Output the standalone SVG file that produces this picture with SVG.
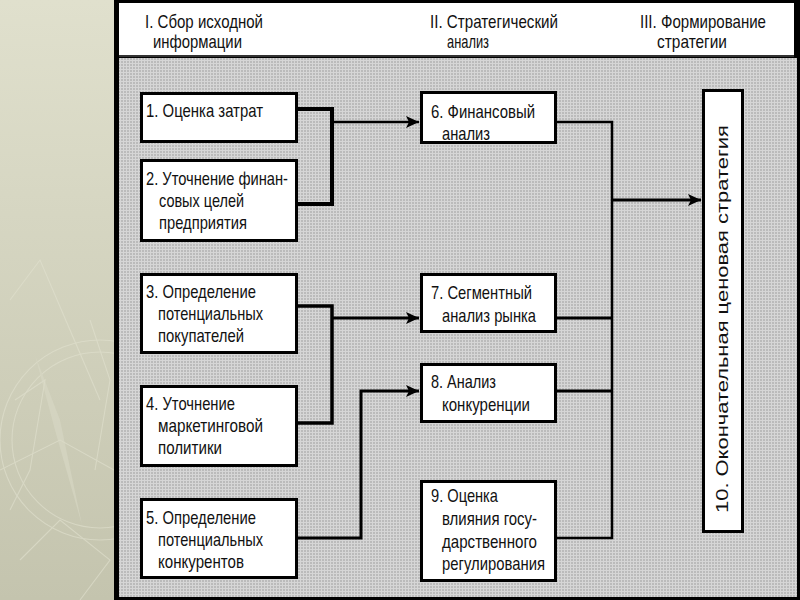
<svg xmlns="http://www.w3.org/2000/svg" width="800" height="600" viewBox="0 0 800 600">
<style>
.box{fill:#fff;stroke:#000;stroke-width:3}
.t{font-family:"Liberation Sans",Arial,sans-serif;font-size:19px;fill:#111}
.vt{font-family:"Liberation Sans",Arial,sans-serif;font-size:16px;fill:#111}
.c{fill:none;stroke:#000;stroke-linejoin:miter}
.deco{fill:none;stroke:#e2e2d0;stroke-width:1.1;opacity:0.6}
</style>
<defs>
<linearGradient id="bg" x1="0" y1="0" x2="0" y2="1">
<stop offset="0" stop-color="#e0e0cd"/>
<stop offset="1" stop-color="#c4c4ae"/>
</linearGradient>
<pattern id="grid" width="3" height="3" patternUnits="userSpaceOnUse">
<rect width="3" height="3" fill="#bbbbbb"/>
<rect width="3" height="1" fill="#d6d6d6"/>
<rect width="1" height="3" fill="#d6d6d6"/>
</pattern>
<marker id="ah" markerUnits="userSpaceOnUse" markerWidth="14" markerHeight="12" refX="13" refY="6" orient="auto">
<path d="M0,0 L13,6 L0,12 L3,6 Z" fill="#000"/>
</marker>
</defs>

<g id="background">
<rect x="0" y="0" width="114" height="600" fill="url(#bg)"/>
<g class="deco">
<circle cx="100" cy="440" r="100"/>
<circle cx="100" cy="440" r="88"/>
<path d="M35,355 L60,420 L82,525 L55,430 Z" fill="#d9d9c6" stroke="none"/>
<path d="M10,300 L40,260 L70,330 L100,400"/>
<path d="M0,470 L60,440 L114,470"/>
<path d="M20,560 L60,520 L110,560 L80,600"/>
<path d="M15,400 L45,380 L30,470 L10,510"/>
<path d="M90,320 L110,380 L95,470"/>
</g>
<rect x="114" y="0" width="686" height="600" fill="#000"/>
<rect x="119" y="3" width="675" height="52" fill="#fff"/>
<rect x="119" y="55" width="675" height="2" fill="#333"/>
<rect x="119" y="58" width="678" height="539" fill="url(#grid)"/>
</g>

<g id="header">
<text class="t" x="145" y="28" textLength="118" lengthAdjust="spacingAndGlyphs">I. Сбор исходной</text>
<text class="t" x="153" y="48" textLength="89" lengthAdjust="spacingAndGlyphs">информации</text>
<text class="t" x="430" y="28" textLength="128" lengthAdjust="spacingAndGlyphs">II. Стратегический</text>
<text class="t" x="447" y="48" textLength="42" lengthAdjust="spacingAndGlyphs">анализ</text>
<text class="t" x="640" y="28" textLength="126" lengthAdjust="spacingAndGlyphs">III. Формирование</text>
<text class="t" x="657" y="48" textLength="70" lengthAdjust="spacingAndGlyphs">стратегии</text>
</g>

<g id="connectors">
<path class="c" stroke-width="4" d="M298,109 H332 V204 H298"/>
<path class="c" stroke-width="2.5" d="M332,122 H419" marker-end="url(#ah)"/>
<path class="c" stroke-width="3.5" d="M298,306 H332 V423 H298"/>
<path class="c" stroke-width="3" d="M332,318 H419" marker-end="url(#ah)"/>
<path class="c" stroke-width="3" d="M298,538 H361 V391 H419" marker-end="url(#ah)"/>
<path class="c" stroke-width="2.5" d="M557,122 H612 V538 H557"/>
<path class="c" stroke-width="3" d="M557,318 H612"/>
<path class="c" stroke-width="3" d="M557,391 H612"/>
<path class="c" stroke-width="3" d="M612,200 H701" marker-end="url(#ah)"/>
</g>

<g id="node1">
<rect class="box" x="141.5" y="93.5" width="155" height="48"/>
<text class="t" x="146" y="117" textLength="117" lengthAdjust="spacingAndGlyphs">1. Оценка затрат</text>
</g>
<g id="node2">
<rect class="box" x="141.5" y="160.5" width="155" height="80"/>
<text class="t" x="146" y="185" textLength="142" lengthAdjust="spacingAndGlyphs">2. Уточнение финан-</text>
<text class="t" x="159" y="207" textLength="85" lengthAdjust="spacingAndGlyphs">совых целей</text>
<text class="t" x="159" y="229" textLength="88" lengthAdjust="spacingAndGlyphs">предприятия</text>
</g>
<g id="node3">
<rect class="box" x="141.5" y="274.5" width="155" height="78"/>
<text class="t" x="146" y="298" textLength="110" lengthAdjust="spacingAndGlyphs">3. Определение</text>
<text class="t" x="158" y="320" textLength="105" lengthAdjust="spacingAndGlyphs">потенциальных</text>
<text class="t" x="158" y="342" textLength="86" lengthAdjust="spacingAndGlyphs">покупателей</text>
</g>
<g id="node4">
<rect class="box" x="141.5" y="386.5" width="155" height="79"/>
<text class="t" x="146" y="410" textLength="89" lengthAdjust="spacingAndGlyphs">4. Уточнение</text>
<text class="t" x="158" y="432" textLength="105" lengthAdjust="spacingAndGlyphs">маркетинговой</text>
<text class="t" x="158" y="454" textLength="64" lengthAdjust="spacingAndGlyphs">политики</text>
</g>
<g id="node5">
<rect class="box" x="141.5" y="499.5" width="155" height="78"/>
<text class="t" x="146" y="524" textLength="110" lengthAdjust="spacingAndGlyphs">5. Определение</text>
<text class="t" x="158" y="546" textLength="105" lengthAdjust="spacingAndGlyphs">потенциальных</text>
<text class="t" x="158" y="568" textLength="86" lengthAdjust="spacingAndGlyphs">конкурентов</text>
</g>
<g id="node6">
<rect class="box" x="421.5" y="92.5" width="134" height="50"/>
<text class="t" x="431" y="118" textLength="104" lengthAdjust="spacingAndGlyphs">6. Финансовый</text>
<text class="t" x="442" y="140" textLength="48" lengthAdjust="spacingAndGlyphs">анализ</text>
</g>
<g id="node7">
<rect class="box" x="421.5" y="274.5" width="134" height="57"/>
<text class="t" x="431" y="299" textLength="101" lengthAdjust="spacingAndGlyphs">7. Сегментный</text>
<text class="t" x="442" y="322" textLength="94" lengthAdjust="spacingAndGlyphs">анализ рынка</text>
</g>
<g id="node8">
<rect class="box" x="421.5" y="364.5" width="134" height="57"/>
<text class="t" x="431" y="388" textLength="65" lengthAdjust="spacingAndGlyphs">8. Анализ</text>
<text class="t" x="442" y="411" textLength="88" lengthAdjust="spacingAndGlyphs">конкуренции</text>
</g>
<g id="node9">
<rect class="box" x="421.5" y="481.5" width="134" height="99"/>
<text class="t" x="431" y="502" textLength="67" lengthAdjust="spacingAndGlyphs">9. Оценка</text>
<text class="t" x="442" y="525" textLength="95" lengthAdjust="spacingAndGlyphs">влияния госу-</text>
<text class="t" x="442" y="548" textLength="95" lengthAdjust="spacingAndGlyphs">дарственного</text>
<text class="t" x="442" y="570" textLength="103" lengthAdjust="spacingAndGlyphs">регулирования</text>
</g>
<g id="node10">
<rect class="box" x="703.5" y="90.5" width="39" height="441"/>
<text class="vt" transform="translate(728,513) rotate(-90)" x="0" y="0" textLength="388" lengthAdjust="spacingAndGlyphs">10. Окончательная ценовая стратегия</text>
</g>
</svg>
